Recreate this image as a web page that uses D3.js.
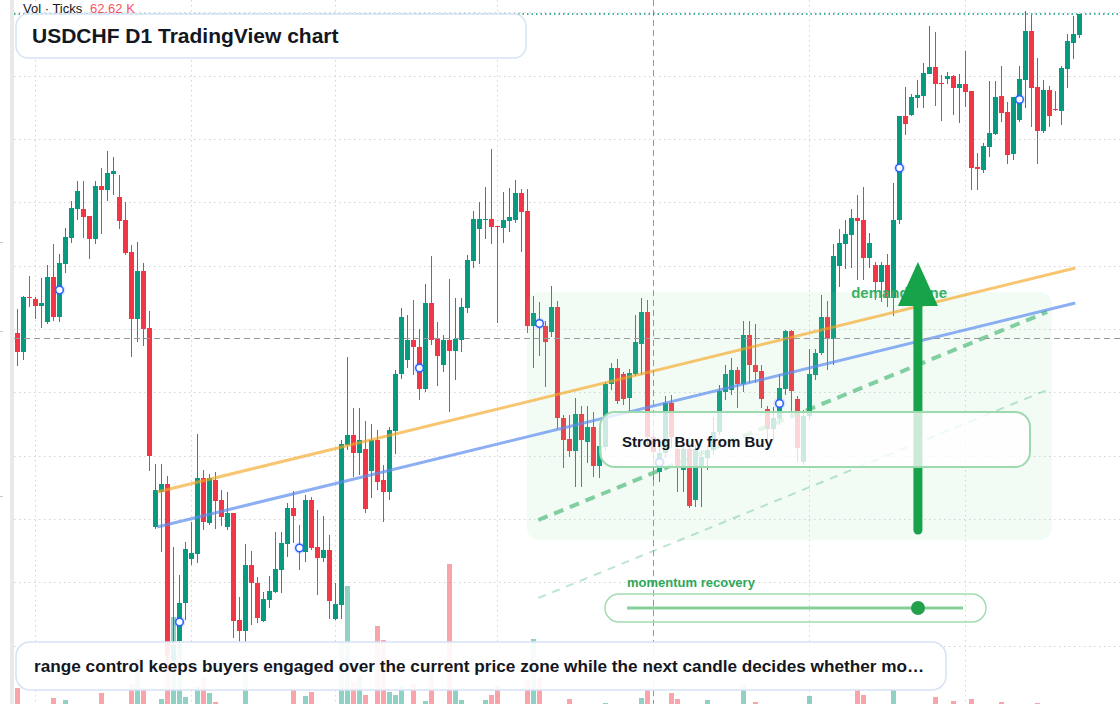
<!DOCTYPE html>
<html>
<head>
<meta charset="utf-8">
<script src="https://cdn.jsdelivr.net/npm/d3@7"></script>
<style>
  body { margin: 0; background: #fff; }
  svg { display: block; font-family: "Liberation Sans", Arial, sans-serif; }
</style>
</head>
<body>
<svg id="chart" width="1120" height="704"></svg>
<script>
// daily USDCHF candles
const opens = [
  .8979,.8960,.9015,.9013,.9006,.8990,.9035,.8995,.9048,.9074,
  .9103,.9103,.9096,.9073,.9126,.9122,.9138,.9115,.9092,.9060,
  .8993,.9041,.8984,.8785,.8820,.8828,.8652,.8671,.8709,.8753,
  .8758,.8834,.8789,.8832,.8812,.8785,.8799,.8692,.8681,.8747,
  .8729,.8691,.8712,.8720,.8742,.8768,.8804,.8767,.8760,.8812,
  .8765,.8754,.8762,.8693,.8707,.8867,.8877,.8859,.8863,.8841,
  .8872,.8832,.8820,.8881,.8938,.8952,.8972,.8965,.8923,.9009,
  .8973,.8947,.8972,.8961,.8972,.9004,.9051,.9083,.9092,.9093,
  .9086,.9084,.9091,.9092,.9119,.9101,.8986,.8992,.8986,.8980,
  .9005,.8894,.8873,.8861,.8898,.8870,.8885,.8846,.8865,.8928,
  .8944,.8938,.8914,.8938,.8968,.9000,.8875,.8840,.8859,.8909,
  .8863,.8842,.8863,.8812,.8844,.8854,.8862,.8880,.8920,.8922,
  .8942,.8928,.8977,.8947,.8941,.8903,.8883,.8893,.8923,.8981,
  .8913,.8850,.8896,.8937,.8959,.8995,.8973,.9046,.9068,.9077,
  .9094,.9092,.9054,.9047,.9030,.9047,.9014,.9092,.9196,.9197,
  .9214,.9216,.9238,.9245,.9229,.9233,.9236,.9224,.9228,.9221,
  .9145,.9142,.9165,.9178,.9216,.9200,.9158,.9192,.9232,.9281,
  .9225,.9181,.9222,.9203,.9201,.9243,.9269,.9277
];
const highs = [
  .9003,.9016,.9036,.9015,.9034,.9047,.9068,.9058,.9084,.9111,
  .9131,.9131,.9096,.9131,.9144,.9161,.9155,.9137,.9110,.9067,
  .9070,.9049,.9001,.8848,.8848,.8836,.8765,.8737,.8770,.8790,
  .8878,.8842,.8838,.8840,.8822,.8820,.8799,.8715,.8768,.8761,
  .8735,.8720,.8736,.8780,.8780,.8809,.8821,.8787,.8817,.8815,
  .8802,.8796,.8777,.8729,.8872,.8955,.8904,.8904,.8891,.8888,
  .8882,.8847,.8885,.8942,.9004,.8997,.9012,.8983,.9028,.9056,
  .8990,.8977,.9033,.9014,.9014,.9057,.9101,.9110,.9125,.9163,
  .9086,.9120,.9124,.9132,.9123,.9123,.9016,.9010,.8991,.9026,
  .9011,.8897,.8897,.8914,.8906,.8906,.8900,.8875,.8930,.8949,
  .8953,.8940,.8943,.8997,.9014,.9012,.8882,.8865,.8916,.8917,
  .8867,.8867,.8867,.8867,.8862,.8867,.8895,.8927,.8947,.8954,
  .8945,.8991,.8991,.8988,.8947,.8906,.8905,.8938,.8982,.8982,
  .8916,.8902,.8963,.8963,.9017,.9011,.9068,.9083,.9092,.9103,
  .9117,.9125,.9079,.9050,.9050,.9058,.9129,.9196,.9225,.9218,
  .9232,.9249,.9286,.9280,.9237,.9240,.9237,.9238,.9261,.9221,
  .9159,.9169,.9231,.9231,.9246,.9210,.9215,.9246,.9301,.9297,
  .9254,.9232,.9226,.9221,.9246,.9278,.9296,.9298
];
const lows = [
  .8946,.8952,.9005,.8993,.8984,.8988,.8991,.8990,.9039,.9069,
  .9092,.9074,.9053,.9068,.9078,.9111,.9117,.9083,.9057,.8955,
  .8970,.8966,.8841,.8783,.8760,.8644,.8644,.8662,.8692,.8747,
  .8749,.8782,.8787,.8783,.8786,.8782,.8674,.8670,.8669,.8687,
  .8689,.8690,.8704,.8719,.8719,.8755,.8769,.8742,.8750,.8762,
  .8717,.8750,.8693,.8692,.8693,.8862,.8835,.8837,.8799,.8814,
  .8822,.8790,.8812,.8858,.8933,.8944,.8937,.8912,.8920,.8967,
  .8926,.8940,.8900,.8932,.8960,.8999,.9044,.9048,.9073,.9068,
  .8989,.9069,.9080,.9089,.9060,.8979,.8944,.8956,.8925,.8975,
  .8883,.8844,.8855,.8825,.8825,.8849,.8835,.8834,.8862,.8922,
  .8908,.8907,.8900,.8936,.8937,.8865,.8830,.8830,.8854,.8864,
  .8820,.8820,.8804,.8805,.8805,.8842,.8857,.8877,.8912,.8917,
  .8904,.8920,.8929,.8929,.8904,.8872,.8872,.8887,.8917,.8897,
  .8850,.8847,.8892,.8932,.8957,.8942,.8947,.9025,.9043,.9044,
  .9032,.9032,.9044,.9012,.9010,.9005,.8996,.9088,.9177,.9196,
  .9204,.9204,.9238,.9206,.9191,.9228,.9197,.9189,.9205,.9122,
  .9122,.9139,.9155,.9177,.9190,.9148,.9152,.9190,.9204,.9185,
  .9148,.9179,.9185,.9201,.9187,.9224,.9253,.9274
];
const closes = [
  .8960,.9015,.9014,.9006,.9009,.9035,.8995,.9049,.9075,.9104,
  .9121,.9095,.9073,.9126,.9122,.9139,.9141,.9091,.9059,.8993,
  .9041,.8983,.8856,.8822,.8828,.8657,.8667,.8709,.8763,.8759,
  .8834,.8790,.8834,.8811,.8795,.8799,.8691,.8681,.8747,.8729,
  .8694,.8713,.8721,.8743,.8769,.8804,.8796,.8761,.8812,.8764,
  .8754,.8762,.8711,.8708,.8868,.8877,.8859,.8872,.8803,.8872,
  .8830,.8820,.8882,.8938,.8995,.8972,.8965,.8923,.9009,.8972,
  .8956,.8972,.8961,.8973,.9005,.9052,.9093,.9093,.9093,.9085,
  .9085,.9092,.9095,.9119,.9100,.8986,.8999,.8985,.8970,.9005,
  .8894,.8872,.8861,.8898,.8872,.8885,.8846,.8866,.8928,.8944,
  .8911,.8913,.8939,.8970,.9000,.8875,.8860,.8859,.8909,.8875,
  .8845,.8863,.8806,.8863,.8855,.8862,.8880,.8921,.8938,.8942,
  .8928,.8977,.8947,.8940,.8913,.8883,.8894,.8924,.8981,.8921,
  .8864,.8896,.8938,.8959,.8995,.8973,.9056,.9069,.9078,.9094,
  .9091,.9054,.9069,.9030,.9047,.9014,.9092,.9196,.9188,.9215,
  .9217,.9239,.9245,.9228,.9228,.9236,.9224,.9228,.9220,.9144,
  .9143,.9166,.9179,.9215,.9199,.9157,.9215,.9233,.9281,.9224,
  .9181,.9222,.9196,.9202,.9244,.9271,.9278,.9298
];
// tick volume (K)
const volumes = [
  22,4,4,4,4,4,12,4,10,4,
  4,4,4,4,17,4,4,4,4,26,
  53,20,4,4,11,68,93,68,13,4,
  23,33,17,8,4,4,4,4,47,4,
  4,4,4,4,4,4,20,4,14,18,
  4,4,4,4,68,124,28,35,15,4,
  84,70,18,15,24,4,26,4,9,37,
  4,4,146,20,10,4,4,4,10,15,
  25,4,4,4,4,30,71,33,4,4,
  4,4,11,4,4,4,4,4,7,4,
  4,4,4,4,12,20,4,4,4,17,
  11,4,4,4,4,10,4,4,4,4,
  4,25,4,8,4,4,4,4,4,4,
  4,4,14,4,4,4,4,4,4,4,
  20,15,4,4,4,4,20,4,4,4,
  4,4,4,13,4,4,9,4,4,11,
  4,4,4,4,8,4,4,4,4,4,
  7,4,4,4,4,4,4,4
];

const priceTicks = [0.8666, 0.8730, 0.8793, 0.8856, 0.8920, 0.8983, 0.9046, 0.9110, 0.9173, 0.9236, 0.9300];
const edgeTicks = [0.9070, 0.8981, 0.8816];
const timeTicks = [3, 29, 53, 80, 106, 132, 158];
const markerIdx = [7, 27, 47, 67, 87, 107, 127, 147, 167];

const orangeLine = [[23.3, 0.8820], [176.3, 0.9044]];
const blueLine = [[23.3, 0.8785], [176.3, 0.9009]];
const greenDash = [[86.8, 0.8792], [171.6, 0.9000]];
const lightDash = [[86.8, 0.8714], [171.6, 0.8922]];
const zone = { from: 84.9, to: 172.4, top: 0.9020, bottom: 0.8772 };
const arrow = { at: 150.07, base: 0.8782, neck: 0.9006, tip: 0.9050 };
const crosshair = { at: 106, price: 0.8974 };

const width = 1120, height = 704;
const n = closes.length;
const up = '#089981', down = '#f23645';

const x = d3.scaleLinear().domain([0, n - 1]).range([17.5, 1079.5]);
const y = d3.scaleLinear().domain([0.8608, 0.9312]).range([704, 0]);
const v = d3.scaleLinear().domain([0, 150]).range([710, 560]);

const data = closes.map((c, i) => ({ i, o: opens[i], h: highs[i], l: lows[i], c, vol: volumes[i] }));
const isUp = d => d.c >= d.o;

const svg = d3.select('#chart');
svg.append('rect').attr('width', width).attr('height', height).attr('fill', '#fff');
svg.append('rect').attr('x', 10).attr('width', 4).attr('height', height).attr('fill', '#e9e9ea');
svg.append('g').selectAll('line').data(edgeTicks).enter().append('line')
  .attr('x1', 0).attr('x2', 3)
  .attr('y1', d => Math.round(y(d)) + 0.5).attr('y2', d => Math.round(y(d)) + 0.5)
  .attr('stroke', '#c4c6cc');

// grid
const grid = svg.append('g')
  .attr('stroke', '#d1d4dc').attr('stroke-dasharray', '1.5,3.5');
grid.selectAll('.h').data(priceTicks).enter().append('line')
  .attr('x1', 14).attr('x2', width)
  .attr('y1', d => Math.round(y(d)) + 0.5).attr('y2', d => Math.round(y(d)) + 0.5);
grid.selectAll('.v').data(timeTicks).enter().append('line')
  .attr('x1', d => x(d)).attr('x2', d => x(d))
  .attr('y1', 0).attr('y2', height);

// volume
svg.append('g').selectAll('rect').data(data).enter().append('rect')
  .attr('x', d => x(d.i) - 2.5)
  .attr('width', 5)
  .attr('y', d => v(d.vol))
  .attr('height', d => v(0) - v(d.vol))
  .attr('fill', d => isUp(d) ? up : down)
  .attr('fill-opacity', 0.45);

// candles
const candles = svg.append('g');
candles.selectAll('line').data(data).enter().append('line')
  .attr('x1', d => x(d.i)).attr('x2', d => x(d.i))
  .attr('y1', d => y(d.h)).attr('y2', d => y(d.l))
  .attr('stroke', d => isUp(d) ? up : down);
candles.selectAll('rect').data(data).enter().append('rect')
  .attr('x', d => x(d.i) - 2.5)
  .attr('width', 5)
  .attr('y', d => y(Math.max(d.o, d.c)))
  .attr('height', d => Math.max(1, Math.abs(y(d.o) - y(d.c))))
  .attr('fill', d => isUp(d) ? up : down);

// zone label, then the zone wash over it
svg.append('text')
  .attr('x', x(138.95)).attr('y', y(zone.top) + 6)
  .attr('font-size', 15).attr('font-weight', 700)
  .attr('fill', '#34ad60')
  .text('demand zone');
svg.append('rect')
  .attr('x', x(zone.from)).attr('y', y(zone.top))
  .attr('width', x(zone.to) - x(zone.from))
  .attr('height', y(zone.bottom) - y(zone.top))
  .attr('rx', 12)
  .attr('fill', '#86d69c').attr('fill-opacity', 0.1);

// trend lines
const seg = d3.line().x(d => x(d[0])).y(d => y(d[1]));
svg.append('path').attr('d', seg(orangeLine)).attr('fill', 'none')
  .attr('stroke', '#f5a623').attr('stroke-opacity', 0.65).attr('stroke-width', 3);
svg.append('path').attr('d', seg(blueLine)).attr('fill', 'none')
  .attr('stroke', '#5b8def').attr('stroke-opacity', 0.7).attr('stroke-width', 3);
svg.append('path').attr('d', seg(greenDash)).attr('fill', 'none')
  .attr('stroke', '#22ab59').attr('stroke-opacity', 0.55).attr('stroke-width', 4)
  .attr('stroke-dasharray', '10,7');
svg.append('path').attr('d', seg(lightDash)).attr('fill', 'none')
  .attr('stroke', '#22ab59').attr('stroke-opacity', 0.3).attr('stroke-width', 2)
  .attr('stroke-dasharray', '8,7');

// markers
const marks = svg.append('g').selectAll('g').data(markerIdx.map(i => data[i])).enter().append('g')
  .attr('transform', d => `translate(${x(d.i)},${y((d.o + d.c) / 2)})`);
marks.append('circle').attr('r', 6).attr('fill', '#2962ff').attr('fill-opacity', 0.15);
marks.append('circle').attr('r', 3.8).attr('fill', '#fff')
  .attr('stroke', '#2962ff').attr('stroke-width', 1.5);

// crosshair
svg.append('line')
  .attr('x1', x(crosshair.at)).attr('x2', x(crosshair.at)).attr('y1', 0).attr('y2', height)
  .attr('stroke', '#9598a1').attr('stroke-dasharray', '6,4');
svg.append('line')
  .attr('x1', 14).attr('x2', width)
  .attr('y1', Math.round(y(crosshair.price)) + 0.5).attr('y2', Math.round(y(crosshair.price)) + 0.5)
  .attr('stroke', '#9598a1').attr('stroke-dasharray', '6,4');

// last price
svg.append('line')
  .attr('x1', 14).attr('x2', width)
  .attr('y1', y(closes[n - 1])).attr('y2', y(closes[n - 1]))
  .attr('stroke', up).attr('stroke-width', 1.5).attr('stroke-dasharray', '1.5,3');

// arrow
const ax = x(arrow.at);
svg.append('line')
  .attr('x1', ax).attr('x2', ax).attr('y1', y(arrow.base)).attr('y2', y(arrow.neck))
  .attr('stroke', '#16a34a').attr('stroke-width', 9).attr('stroke-linecap', 'round');
svg.append('path')
  .attr('d', `M${ax - 20},${y(arrow.neck)}L${ax + 20},${y(arrow.neck)}L${ax},${y(arrow.tip)}Z`)
  .attr('fill', '#16a34a');

// signal box
svg.append('rect')
  .attr('x', 600).attr('y', 412).attr('width', 430).attr('height', 55).attr('rx', 15)
  .attr('fill', '#fff').attr('fill-opacity', 0.78)
  .attr('stroke', '#9dd9ae').attr('stroke-width', 2);
svg.append('text')
  .attr('x', 622).attr('y', 447)
  .attr('font-size', 15).attr('font-weight', 700).attr('fill', '#131722')
  .text('Strong Buy from Buy');

// momentum slider
svg.append('text')
  .attr('x', 627).attr('y', 587)
  .attr('font-size', 13).attr('font-weight', 700).attr('fill', '#2ea85a')
  .text('momentum recovery');
svg.append('rect')
  .attr('x', 605).attr('y', 594).attr('width', 381).attr('height', 28).attr('rx', 14)
  .attr('fill', 'none').attr('stroke', '#a3dcb3').attr('stroke-width', 1.5);
svg.append('line')
  .attr('x1', 627).attr('x2', 963).attr('y1', 608).attr('y2', 608)
  .attr('stroke', '#86cf9b').attr('stroke-width', 3);
svg.append('circle').attr('cx', 918).attr('cy', 608).attr('r', 7).attr('fill', '#22a04b');

// title
svg.append('rect')
  .attr('x', 16).attr('y', 14).attr('width', 510).attr('height', 44).attr('rx', 12)
  .attr('fill', '#fff').attr('stroke', '#d6e2f5').attr('stroke-width', 1.5);
svg.append('text')
  .attr('x', 32).attr('y', 43)
  .attr('font-size', 21).attr('font-weight', 700).attr('fill', '#131722')
  .text('USDCHF D1 TradingView chart');

// caption
svg.append('rect')
  .attr('x', 16).attr('y', 642).attr('width', 930).attr('height', 48).attr('rx', 14)
  .attr('fill', '#fff').attr('fill-opacity', 0.9)
  .attr('stroke', '#d6e2f5').attr('stroke-width', 1.5);
svg.append('text')
  .attr('x', 34).attr('y', 672)
  .attr('font-size', 17.2).attr('font-weight', 700).attr('fill', '#131722')
  .text('range control keeps buyers engaged over the current price zone while the next candle decides whether mo\u2026');

// volume legend
const legend = svg.append('text').attr('x', 23).attr('y', 13).attr('font-size', 13);
legend.append('tspan').attr('fill', '#131722').text('Vol \u00b7 Ticks');
legend.append('tspan').attr('x', 90).attr('fill', '#f7525f').text('62.62 K');
</script>
</body>
</html>
